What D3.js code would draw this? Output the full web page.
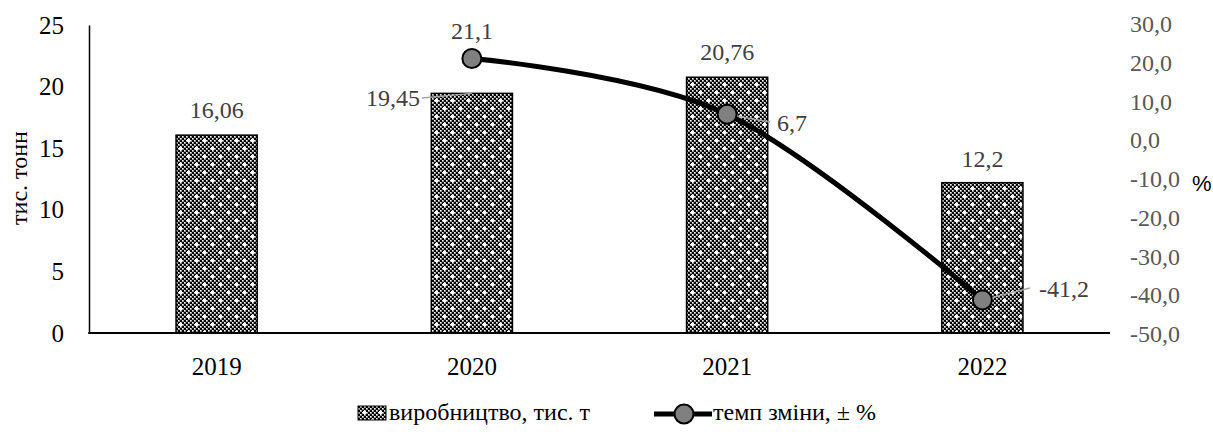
<!DOCTYPE html>
<html><head><meta charset="utf-8">
<script src="https://cdn.jsdelivr.net/npm/d3@7"></script>
<style>body{margin:0;background:#fff}svg{display:block}text{font-family:"Liberation Serif","Times New Roman",serif}</style>
</head><body>
<svg id="c" width="1213" height="432"></svg>
<script>
const years = ["2019","2020","2021","2022"];
const production = [16.06, 19.45, 20.76, 12.2];
const changeRate = [null, 21.1, 6.7, -41.2];
const leftTicks = [0,5,10,15,20,25];
const rightTicks = [30,20,10,0,-10,-20,-30,-40,-50];
const seriesNames = ["виробництво, тис. т", "темп зміни, ± %"];
const yTitle = "тис. тонн";
const rightUnit = "%";

const svg = d3.select("#c");
const L=89,R=1110,T=25,B=333;
const fs=25;
const x = d3.scaleBand().domain(years).range([L,R]).padding(0);
const yL = d3.scaleLinear().domain([0,25]).range([B,T]);
const yR = d3.scaleLinear().domain([-50,30]).range([B+1,T-1]);
const fmt = v => String(v).replace(".",",");
const fmt1 = v => v.toFixed(1).replace(".",",");

// pattern
const defs = svg.append("defs");
const pat = defs.append("pattern").attr("id","chk").attr("patternUnits","userSpaceOnUse")
  .attr("width",16).attr("height",16);
pat.append("rect").attr("width",16).attr("height",16).attr("fill","#7a7a7a");
for(let i=0;i<8;i++)for(let j=0;j<8;j++){
  if((i+j)%2===0) pat.append("rect").attr("x",i*2).attr("y",j*2).attr("width",2).attr("height",2).attr("fill","#000");
  else pat.append("rect").attr("x",i*2).attr("y",j*2).attr("width",1.3).attr("height",1.3).attr("fill","#fff");
}
[[3,3],[11,11]].forEach(([a,b])=>pat.append("rect").attr("x",a).attr("y",b).attr("width",3).attr("height",3).attr("fill","#fff"));

// left axis
const gL = svg.append("g").attr("transform",`translate(${L},0)`)
  .call(d3.axisLeft(yL).tickValues(leftTicks).tickSize(0).tickPadding(25));
gL.select(".domain").attr("stroke","#000").attr("stroke-width",1.5);
gL.selectAll("text").attr("font-size",fs).attr("fill","#000").style("font-family","Liberation Serif");

// right axis (labels only)
const gR = svg.append("g").attr("transform",`translate(1130,0)`)
  .call(d3.axisRight(yR).tickValues(rightTicks).tickSize(0).tickPadding(0).tickFormat(fmt1));
gR.select(".domain").remove();
gR.selectAll("text").attr("font-size",fs-1).attr("fill","#595959").style("font-family","Liberation Serif");

// bars
const bw = x.bandwidth()*0.318;
svg.append("g").selectAll("rect").data(years).join("rect")
  .attr("x",d=>x(d)+(x.bandwidth()-bw)/2).attr("width",bw)
  .attr("y",(d,i)=>yL(production[i])).attr("height",(d,i)=>B-yL(production[i]))
  .attr("fill","url(#chk)").attr("stroke","#000").attr("stroke-width",1.5);

// baseline
svg.append("line").attr("x1",L-0.75).attr("x2",R).attr("y1",B).attr("y2",B).attr("stroke","#000").attr("stroke-width",2);

// x labels
const gX = svg.append("g").attr("transform",`translate(0,${B})`)
  .call(d3.axisBottom(x).tickSize(0).tickPadding(24));
gX.select(".domain").remove();
gX.selectAll("text").attr("font-size",fs).attr("fill","#000").style("font-family","Liberation Serif");

// line
const cx = d => x(d)+x.bandwidth()/2;
const pts = years.map((d,i)=>[cx(d), changeRate[i]]).filter(p=>p[1]!==null);
const line = d3.line().x(p=>p[0]).y(p=>yR(p[1])).curve(d3.curveCardinal.tension(0));
svg.append("path").attr("d",line(pts)).attr("fill","none").attr("stroke","#000").attr("stroke-width",5);

// leader lines
const leader=(x1,y1,x2,y2)=>svg.append("line").attr("x1",x1).attr("y1",y1).attr("x2",x2).attr("y2",y2)
  .attr("stroke","#a6a6a6").attr("stroke-width",1.5);
leader(422,98,cx("2020"),yL(production[1]));
leader(cx("2021"),yR(changeRate[2]),770,122);
leader(cx("2022"),yR(changeRate[3]),1030,288);

svg.append("g").selectAll("circle").data(pts).join("circle")
  .attr("cx",p=>p[0]).attr("cy",p=>yR(p[1])).attr("r",9.5)
  .attr("fill","#808080").attr("stroke","#000").attr("stroke-width",2);

// data labels
const lab = svg.append("g").attr("font-size",fs-1).attr("fill","#404040");
const barLab = [
  {t:fmt(production[0]), x:cx("2019"), y:yL(production[0])-17, a:"middle"},
  {t:fmt(production[1]), x:420, y:106, a:"end"},
  {t:fmt(production[2]), x:cx("2021"), y:yL(production[2])-17, a:"middle"},
  {t:fmt(production[3]), x:cx("2022"), y:yL(production[3])-16, a:"middle"},
  {t:fmt(changeRate[1]), x:cx("2020"), y:39, a:"middle"},
  {t:fmt(changeRate[2]), x:777, y:131, a:"start"},
  {t:fmt(changeRate[3]), x:1039, y:297, a:"start"}
];
lab.selectAll("text").data(barLab).join("text")
  .attr("x",d=>d.x).attr("y",d=>d.y).attr("text-anchor",d=>d.a).text(d=>d.t);

// titles
svg.append("text").attr("transform","translate(27,178) rotate(-90)").attr("text-anchor","middle")
  .attr("font-size",fs-1).attr("fill","#000").text(yTitle);
svg.append("text").attr("x",1192).attr("y",191).attr("font-size",fs-3).attr("fill","#000")
  .style("font-family","Liberation Sans").text(rightUnit);

// legend
const lg = svg.append("g");
const ly = 414;
lg.append("rect").attr("x",358).attr("y",ly-8).attr("width",28).attr("height",14).attr("fill","url(#chk)").attr("stroke","#000").attr("stroke-width",1);
lg.append("text").attr("x",389).attr("y",ly+6).attr("font-size",fs-1).attr("fill","#000").text(seriesNames[0]);
lg.append("line").attr("x1",654).attr("x2",712).attr("y1",ly).attr("y2",ly).attr("stroke","#000").attr("stroke-width",5);
lg.append("circle").attr("cx",684).attr("cy",ly).attr("r",9.5).attr("fill","#808080").attr("stroke","#000").attr("stroke-width",2);
lg.append("text").attr("x",713).attr("y",ly+6).attr("font-size",fs-1).attr("fill","#000").text(seriesNames[1]);
</script>
</body></html>
